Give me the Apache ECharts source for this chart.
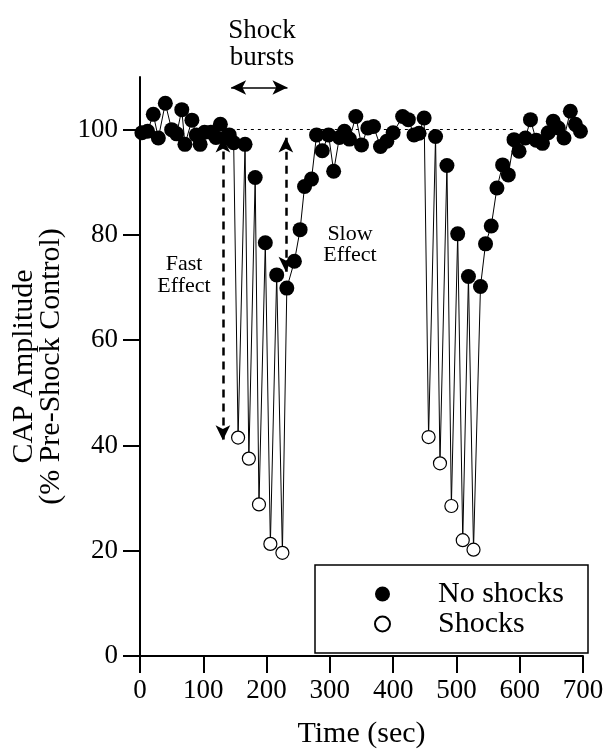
<!DOCTYPE html>
<html>
<head>
<meta charset="utf-8">
<script src="https://cdn.jsdelivr.net/npm/echarts@6/dist/echarts.min.js"></script>
<style>
  html, body { margin: 0; padding: 0; background: #fff; }
  #main { width: 608px; height: 755px; }
</style>
</head>
<body>
<div id="main"></div>
<script>
const dom = document.getElementById('main');

// readings without a shock (filled dots)
const noShockTime = [3, 12, 21, 29, 40, 50, 58, 66, 71, 82, 89, 95, 102, 112, 120, 127, 135, 141, 148,
  166, 182, 198, 216, 232, 244, 253, 260, 271, 279, 288, 298, 306, 315, 323, 331, 341, 350, 360, 369,
  380, 390, 400, 415, 424, 433, 441, 449,
  467, 485, 502, 519, 538, 546, 555, 564, 573, 582, 591, 599, 609, 617, 626, 636, 645, 653, 661, 670,
  680, 688, 696];
const noShockAmp = [99.4, 99.7, 102.9, 98.4, 105, 100, 99.2, 103.8, 97.2, 101.8, 99, 97.2, 99.5, 99.5, 98.5, 101, 98.4, 99, 97.5,
  97.2, 90.9, 78.5, 72.4, 69.9, 75, 81, 89.2, 90.6, 99, 96, 99, 92.1, 98.5, 99.7, 98.2, 102.5, 97.1, 100.3, 100.6,
  96.8, 97.8, 99.4, 102.5, 101.9, 99, 99.3, 102.2,
  98.7, 93.2, 80.2, 72.1, 70.2, 78.3, 81.7, 88.9, 93.3, 91.4, 98.1, 95.9, 98.4, 101.9, 98, 97.4, 99.4, 101.6, 100.3, 98.4,
  103.5, 101, 99.7];

// readings right after a shock (open dots)
const shockTime = [155, 172, 188, 206, 225, 456, 474, 492, 510, 527];
const shockAmp = [41.5, 37.5, 28.8, 21.3, 19.6, 41.6, 36.6, 28.5, 22, 20.2];

const yTicks = [0, 20, 40, 60, 80, 100];

const serif = 'Liberation Serif';

function pairs(xs, ys) {
  return xs.map((x, i) => [x, ys[i]]);
}

function buildTrace() {
  return pairs(noShockTime, noShockAmp)
    .concat(pairs(shockTime, shockAmp))
    .sort((a, b) => a[0] - b[0]);
}

function arrowLine(from, to, style) {
  return [
    { coord: from, symbol: 'arrow', symbolSize: [11, 15], lineStyle: style },
    { coord: to, symbol: 'arrow', symbolSize: [11, 15], lineStyle: style },
  ];
}

function getChartOptions() {
  const dashed = { color: '#000', width: 2.5, type: [8, 6] };
  const axisFont = { fontFamily: serif, fontSize: 27, color: '#000' };
  const nameFont = { fontFamily: serif, fontSize: 30, color: '#000' };
  const tick = { show: true, inside: false, length: 17, lineStyle: { color: '#000', width: 2 } };
  return {
    animation: false,
    grid: { left: 140, right: 25, top: 77, bottom: 99 },
    legend: {
      orient: 'vertical',
      left: 369,
      top: 574,
      itemWidth: 15,
      itemHeight: 15,
      itemGap: 0,
      z: 10,
      textStyle: { fontFamily: serif, fontSize: 30, lineHeight: 28, color: '#000', padding: [0, 0, 0, 43] },
      data: ['No shocks', 'Shocks'],
    },
    xAxis: {
      type: 'value',
      min: 0,
      max: 700,
      interval: 100,
      name: 'Time (sec)',
      nameLocation: 'middle',
      nameGap: 63,
      nameTextStyle: nameFont,
      axisLine: { lineStyle: { color: '#000', width: 2 } },
      axisTick: tick,
      axisLabel: { ...axisFont, margin: 21 },
      splitLine: { show: false },
    },
    yAxis: {
      type: 'value',
      min: 0,
      max: 110,
      name: 'CAP Amplitude\n(% Pre-Shock Control)',
      nameLocation: 'middle',
      nameRotate: 90,
      nameGap: 70,
      nameTextStyle: { ...nameFont, lineHeight: 27 },
      axisLine: { show: true, lineStyle: { color: '#000', width: 2 } },
      axisTick: { ...tick, customValues: yTicks },
      axisLabel: { ...axisFont, margin: 22, customValues: yTicks },
      splitLine: { show: false },
    },
    graphic: [
      {
        type: 'rect', z: 5,
        shape: { x: 315, y: 565, width: 273, height: 88 },
        style: { fill: '#fff', stroke: '#000', lineWidth: 1.5 },
      },
      {
        type: 'text', z: 6,
        style: { text: 'Shock\nbursts', x: 262, y: 44, align: 'center', verticalAlign: 'middle',
          font: '27px "Liberation Serif"', lineHeight: 27, fill: '#000' },
      },
      {
        type: 'text', z: 6,
        style: { text: 'Fast\nEffect', x: 184, y: 275, align: 'center', verticalAlign: 'middle',
          font: '22px "Liberation Serif"', lineHeight: 22, fill: '#000' },
      },
      {
        type: 'text', z: 6,
        style: { text: 'Slow\nEffect', x: 350, y: 245, align: 'center', verticalAlign: 'middle',
          font: '22px "Liberation Serif"', lineHeight: 21, fill: '#000' },
      },
    ],
    series: [
      {
        name: 'trace',
        type: 'line',
        data: buildTrace(),
        symbol: 'none',
        silent: true,
        z: 2,
        lineStyle: { color: '#000', width: 1 },
        markLine: {
          silent: true,
          animation: false,
          label: { show: false },
          data: [
            [
              { coord: [142, 100], symbol: 'none', lineStyle: { color: '#000', width: 1, type: [3, 4] } },
              { coord: [593, 100], symbol: 'none' },
            ],
            arrowLine([131, 98.5], [131, 41], dashed),
            arrowLine([230.5, 73], [230.5, 98.5], dashed),
            arrowLine([144, 108], [233, 108], { color: '#000', width: 1.5, type: 'solid' }),
          ],
        },
      },
      {
        name: 'No shocks',
        type: 'scatter',
        data: pairs(noShockTime, noShockAmp),
        symbol: 'circle',
        symbolSize: 15,
        z: 3,
        itemStyle: { color: '#000', opacity: 1 },
      },
      {
        name: 'Shocks',
        type: 'scatter',
        data: pairs(shockTime, shockAmp),
        symbol: 'circle',
        symbolSize: 13,
        z: 4,
        itemStyle: { color: '#fff', borderColor: '#000', borderWidth: 1.2, opacity: 1 },
      },
    ],
  };
}

const myChart = echarts.init(dom, null, { renderer: 'canvas' });
myChart.setOption(getChartOptions());
</script>
</body>
</html>
